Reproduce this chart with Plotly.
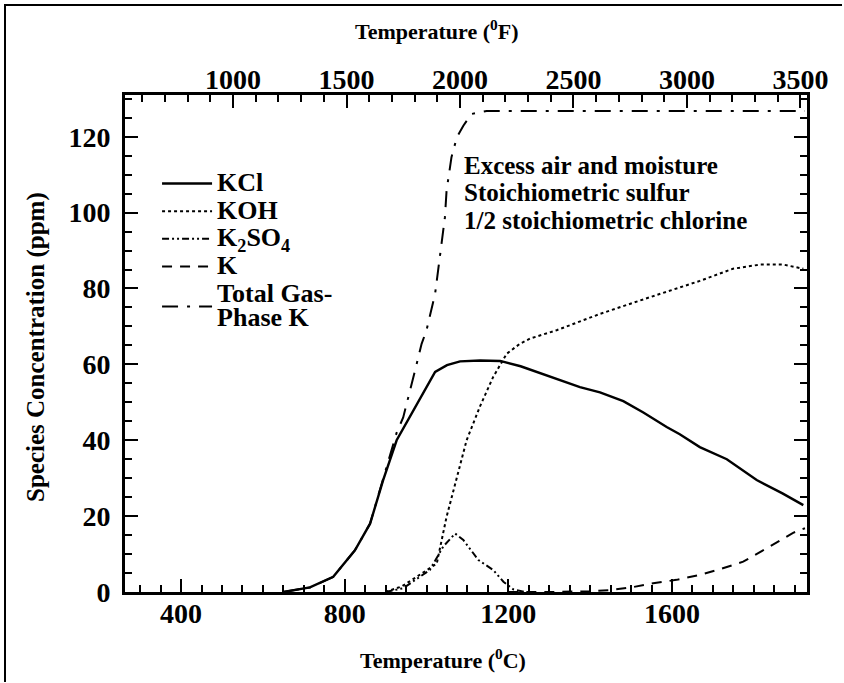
import plotly.graph_objects as go

# ---- data (temperature in deg C, concentration in ppm) ----
kcl_T = [650, 715, 772, 825, 862, 894, 927, 951, 990, 1021, 1050, 1082, 1131, 1180, 1230, 1294, 1375, 1424, 1481, 1530, 1587, 1619, 1668, 1734, 1807, 1870, 1921]
kcl_ppm = [0, 1.2, 4, 11, 18, 29.5, 40, 44.5, 52, 58, 59.8, 60.8, 61, 60.9, 59.5, 57, 54, 52.6, 50.3, 47.3, 43.5, 41.6, 38.2, 35, 29.5, 26, 22.9]

koh_T = [900, 940, 976, 1025, 1049, 1074, 1098, 1131, 1163, 1196, 1228, 1253, 1318, 1424, 1473, 1546, 1668, 1749, 1815, 1872, 1921]
koh_ppm = [0, 1.5, 4, 7.5, 19.8, 30, 40, 49, 56.7, 62.8, 65.4, 66.8, 69, 73.3, 75, 77.7, 82, 85.2, 86.3, 86.3, 85.2]

k2so4_T = [900, 943, 1008, 1041, 1070, 1090, 1127, 1163, 1188, 1212, 1240]
k2so4_ppm = [0, 1, 5.8, 12, 15.4, 13.7, 8.4, 5.8, 2.7, 0.7, 0]

k_T = [1200, 1300, 1400, 1448, 1500, 1554, 1611, 1668, 1717, 1774, 1831, 1896, 1925]
k_ppm = [0, 0, 0.2, 0.5, 1.2, 2.3, 3.2, 4.5, 6, 8, 11.5, 15.6, 16.8]

total_T = [650, 715, 772, 825, 862, 894, 927, 943, 960, 972, 988, 1000, 1021, 1033, 1045, 1049, 1061, 1074, 1090, 1110, 1147, 1500, 1925]
total_ppm = [0, 1.2, 4, 11, 18, 29.5, 42, 46, 53, 58.4, 65.4, 69, 78.6, 88.2, 98.8, 105.8, 114.6, 119.8, 122.9, 126, 126.8, 126.8, 126.8]

x_ticks_C = [400, 800, 1200, 1600]
x_ticks_F = [1000, 1500, 2000, 2500, 3000, 3500]
y_ticks = [0, 20, 40, 60, 80, 100, 120]

FONT = "Liberation Serif"
LEG = 19  # legend base size (controls row spacing)

# plot-area pixel geometry (used only for placing texts/frame in paper units)
L, R, T, B = 125, 807, 95, 592
W, H = 844, 683


def px_x(p):
    return (p - L) / (R - L)


def px_y(p):
    return (B - p) / (B - T)


def lbl(t):
    return '<span style="font-size:26px">' + t + '</span>'


fig = go.Figure()
fig.add_trace(go.Scatter(x=kcl_T, y=kcl_ppm, mode="lines", name=lbl("KCl"),
                         line=dict(color="black", width=2.4)))
fig.add_trace(go.Scatter(x=koh_T, y=koh_ppm, mode="lines", name=lbl("KOH"),
                         line=dict(color="black", width=2, dash="3px,3px")))
fig.add_trace(go.Scatter(x=k2so4_T, y=k2so4_ppm, mode="lines", name=lbl("K<sub>2</sub>SO<sub>4</sub>"),
                         line=dict(color="black", width=2, dash="7px,3px,2px,3px,2px,3px")))
fig.add_trace(go.Scatter(x=k_T, y=k_ppm, mode="lines", name=lbl("K"),
                         line=dict(color="black", width=2, dash="10px,8px")))
fig.add_trace(go.Scatter(x=total_T, y=total_ppm, mode="lines", name=lbl("Total Gas-<br>Phase K"),
                         line=dict(color="black", width=2, dash="16px,9px,3px,9px")))
# invisible trace carrying the Fahrenheit axis
fig.add_trace(go.Scatter(x=[t * 9 / 5 + 32 for t in kcl_T], y=kcl_ppm, xaxis="x2", mode="lines",
                         line=dict(width=0), opacity=0, showlegend=False, hoverinfo="skip"))

axis_common = dict(showline=True, linecolor="black", linewidth=3, ticks="inside",
                   tickcolor="black", tickwidth=2, showgrid=False, zeroline=False,
                   automargin=False,
                   tickfont=dict(family=FONT, size=28, color="black", weight="bold"))

fig.update_layout(
    width=W, height=H,
    paper_bgcolor="white", plot_bgcolor="white",
    margin=dict(l=L, r=W - R, t=T, b=H - B, autoexpand=False),
    font=dict(family=FONT, color="black", weight="bold"),
    xaxis=dict(range=[263, 1930], tickvals=x_ticks_C, ticklen=13, ticklabelstandoff=-6,
               minor=dict(dtick=50, tick0=0, ticklen=7, ticks="inside", tickcolor="black", tickwidth=2),
               **axis_common),
    xaxis2=dict(range=[524, 3529], overlaying="x", side="top", tickvals=x_ticks_F, ticklen=13,
                ticklabelstandoff=-8,
                minor=dict(dtick=100, tick0=0, ticklen=7, ticks="inside", tickcolor="black", tickwidth=2),
                **axis_common),
    yaxis=dict(range=[0, 131], tickvals=y_ticks, ticklen=13, mirror="ticks", ticklabelstandoff=6,
               minor=dict(dtick=5, tick0=0, ticklen=7, ticks="inside", tickcolor="black", tickwidth=2),
               **axis_common),
    legend=dict(x=0.047, y=0.86, xanchor="left", yanchor="top", bgcolor="rgba(0,0,0,0)",
                font=dict(family=FONT, size=LEG, color="black", weight="bold"),
                itemwidth=50, tracegroupgap=0),
    showlegend=True,
)

# axis titles as positioned texts
fig.add_annotation(xref="paper", yref="paper", x=px_x(437), y=px_y(30), xanchor="center", yanchor="middle",
                   showarrow=False, text="Temperature (<sup>0</sup>F)",
                   font=dict(family=FONT, size=22, color="black", weight="bold"))
fig.add_annotation(xref="paper", yref="paper", x=px_x(443), y=px_y(659), xanchor="center", yanchor="middle",
                   showarrow=False, text="Temperature (<sup>0</sup>C)",
                   font=dict(family=FONT, size=22, color="black", weight="bold"))
fig.add_annotation(xref="paper", yref="paper", x=px_x(36), y=px_y(347), xanchor="center", yanchor="middle",
                   showarrow=False, textangle=-90, text="Species Concentration (ppm)",
                   font=dict(family=FONT, size=25, color="black", weight="bold"))

fig.add_annotation(xref="paper", yref="paper", x=px_x(462), y=px_y(150), xanchor="left", yanchor="top",
                   align="left", showarrow=False,
                   text=('<span style="font-size:25px">Excess air and moisture</span><br>'
                         '<span style="font-size:25px">Stoichiometric sulfur</span><br>'
                         '<span style="font-size:25px">1/2 stoichiometric chlorine</span>'),
                   font=dict(family=FONT, size=21, color="black", weight="bold"))

# outer frame (left and top edges of the scanned figure)
fig.add_shape(type="line", xref="paper", yref="paper", x0=px_x(5), x1=px_x(5), y0=px_y(4), y1=px_y(H - 1),
              line=dict(color="black", width=2))
fig.add_shape(type="line", xref="paper", yref="paper", x0=px_x(4), x1=px_x(W - 2), y0=px_y(5), y1=px_y(5),
              line=dict(color="black", width=2))

fig.write_html("out.html", config={"displayModeBar": False},
               post_script="document.body.style.margin='0px';document.body.style.overflow='hidden';")
